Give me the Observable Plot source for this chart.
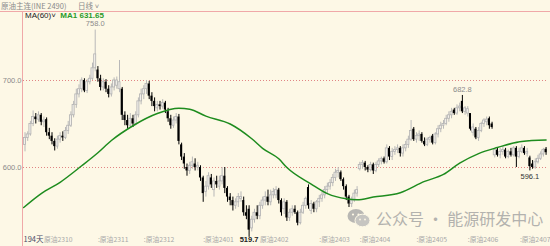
<!DOCTYPE html>
<html><head><meta charset="utf-8">
<script src="https://cdn.jsdelivr.net/npm/d3@7"></script>
<script src="https://cdn.jsdelivr.net/npm/@observablehq/plot@0.6"></script>
<style>
body{margin:0;background:#fdf8e6;}
#wrap{position:relative;width:550px;height:246px;overflow:hidden;background:#fdf8e6;font-family:"Liberation Sans","Noto Sans CJK SC",sans-serif;}
#chart{position:absolute;left:0;top:0;}
#hdr{position:absolute;left:0;top:0;width:550px;height:11px;border-bottom:1px solid #f0a8a8;font-size:7.5px;line-height:11px;color:#8a8a8a;font-family:"Noto Sans CJK SC","Liberation Sans",sans-serif;}
#hdr span{position:absolute;top:0;}
#vline{position:absolute;left:22px;top:11px;width:1px;height:235px;background:#f0a8a8;}
#leg{position:absolute;left:25px;top:11px;font-size:8px;line-height:9px;white-space:nowrap;}
#wm{position:absolute;left:347px;top:208px;white-space:nowrap;color:#b3b2ae;font-size:16px;line-height:20px;font-family:"Noto Sans CJK SC",sans-serif;}
#wm svg{vertical-align:top;margin-right:5px;}
</style></head><body>
<div id="wrap">
<div id="chart"></div>
<div id="hdr"><span style="left:1px">原油主连(INE 2490)</span><span style="left:78px">日线 ˅</span></div>
<div id="vline"></div>
<div id="leg"><span style="color:#222">MA(60)˅</span>&nbsp;&nbsp;<b style="color:#2a9a2a">MA1 631.65</b></div>
<div id="wm"><svg width="24" height="20" viewBox="0 0 24 20"><ellipse cx="9" cy="8" rx="8.5" ry="7" fill="#b8b7b3"/><ellipse cx="15.5" cy="12.5" rx="7.5" ry="6.3" fill="#c6c5c1" stroke="#fdf8e6" stroke-width="1"/><circle cx="6" cy="6.5" r="1.1" fill="#fdf8e6"/><circle cx="11.5" cy="6.5" r="1.1" fill="#fdf8e6"/><circle cx="13" cy="11.5" r="0.9" fill="#fdf8e6"/><circle cx="18" cy="11.5" r="0.9" fill="#fdf8e6"/></svg>公众号 · 能源研发中心</div>
</div>
<script>
const open = [
626,634,638,650,658,655,660,652,655,640,
636,630,624,632,636,634,642,648,660,672,
684,690,700,688,698,702,714,712,702,692,
698,690,684,692,694,690,690,660,654,648,
656,650,660,676,684,690,696,682,676,668,
672,670,674,664,656,648,654,658,626,612,
600,596,602,604,600,600,588,572,578,588,
574,584,578,584,590,576,566,562,556,560,
564,562,548,552,530,540,548,544,556,562,
566,560,568,568,574,562,552,560,542,548,
552,548,536,548,556,577,550,558,552,560,
564,568,574,578,582,588,594,594,586,578,
566,558,562,570,598,603,605,600,597,603,
596,603,607,610,606,622,612,618,620,622,
616,622,626,632,644,632,636,638,630,626,
632,636,628,638,644,648,650,656,660,666,
662,668,676,664,662,662,640,644,634,642,
650,652,656,650,614,620,614,618,620,612,
618,614,622,612,618,622,616,611,604,600,
606,610,615,621];
const high = [
640,641,653,665,662,664,662,658,657,645,
640,633,636,640,641,646,653,664,676,690,
695,703,702,701,706,720,758,716,706,702,
701,694,696,703,704,723,692,664,660,662,
660,664,680,690,694,700,699,686,680,676,
676,678,676,668,660,658,662,661,628,616,
604,606,612,610,606,602,590,584,594,592,
588,590,590,600,600,578,570,566,564,570,
572,566,556,556,544,552,556,560,566,572,
574,574,576,578,576,564,564,562,552,556,
556,550,552,560,566,580,562,560,562,568,
572,578,582,586,592,598,600,596,588,580,
568,566,574,578,606,608,607,602,606,605,
606,610,612,612,626,624,622,624,626,624,
626,630,636,654,646,640,642,640,634,634,
636,638,640,648,652,654,660,664,668,668,
672,674,682.8,670,670,660,650,646,646,652,
656,658,658,652,622,622,622,624,622,620,
622,624,624,622,626,624,622,613,608,610,
614,618,622,623];
const low = [
618,630,636,647,650,652,648,646,636,632,
626,619,621,628,630,632,638,646,657,668,
680,686,686,685,695,700,710,698,688,688,
686,680,681,688,690,686,654,648,644,645,
646,648,657,672,678,684,678,670,664,664,
666,667,662,652,644,645,650,626,608,598,
590,592,598,596,596,584,560,566,574,576,
566,576,574,580,570,560,556,550,552,554,
560,544,540,519.7,526,536,540,540,552,556,
556,556,564,564,558,544,546,538,538,544,
546,533,534,546,552,552,546,548,548,554,
560,564,570,574,578,584,588,584,574,562,
554,554,560,566,596,598,596,594,595,592,
594,600,603,604,604,608,608,614,616,612,
612,618,622,630,630,628,630,628,624,624,
628,626,626,634,640,644,648,652,656,660,
660,664,662,660,658,642,636,632,630,640,
646,648,644,644,611,612,610,614,610,610,
612,612,600,610,616,614,612,596.1,598,598,
604,608,612,614];
const close = [
634,638,650,658,655,660,652,654,640,636,
630,624,632,636,634,642,648,660,672,684,
690,700,688,698,702,714,730,702,692,698,
690,684,692,700,700,698,660,654,648,656,
650,660,676,684,690,696,682,676,670,672,
670,674,666,656,648,654,658,630,612,604,
596,602,606,600,602,588,570,578,590,580,
584,580,584,590,576,566,562,556,560,566,
566,548,544,528,540,548,544,556,562,566,
560,568,572,574,562,548,560,542,548,552,
548,536,548,556,564,556,558,552,560,564,
568,574,578,582,588,594,596,586,578,566,
558,562,570,574,603,605,600,597,603,596,
603,607,610,606,622,612,618,620,622,616,
622,626,632,642,632,636,638,630,626,632,
634,628,638,644,648,650,656,660,664,662,
668,670,664,668,667,644,646,634,642,650,
654,655,648,646,620,614,618,620,612,618,
614,622,612,618,622,616,618,601,600,606,
610,615,620,617];
// MA(60) at these day indices
const maIdx = [-0.5,6,13,21,27,32,40,49,57,61,67,76,84,88,94,97,106,112,119,123,129,139,148,155,161,168,175,184,193];
const maVal = [554,570,583,602,617,631,648,662,668,667,659,650,633,622,610,600,581,570,564,563,566,571,584,592,605,616,623,630,631.65];
const yTicks = [600, 700];
const xLabels = ["原油2310",":原油2311",":原油2312",":原油2401","原油2402",":原油2403",":原油2404",":原油2405",":原油2406",":原油2407"];
const xLabelIdx = [7,27,44,66,87,109,124,145,164,183.3];
const dayCount = "194天";
const highNotes = [{i:26, v:758.0, t:"758.0"}, {i:162, v:682.8, t:"682.8"}];
const lowNotes = [{i:187, v:596.1, t:"596.1"}];
const bottomNote = [{i:83, t:"519.7"}];

const data = close.map((c, i) => ({i, o: open[i], h: high[i], l: low[i], c}));
const up = data.filter(d => d.c >= d.o);
const down = data.filter(d => d.c < d.o);
const ma = maIdx.map((x, k) => ({x, y: maVal[k]}));
const hw = 0.38;

const chart = Plot.plot({
  width: 550, height: 246,
  marginTop: 11, marginBottom: 8, marginLeft: 23, marginRight: 2,
  style: {background: "transparent", fontFamily: "'Liberation Sans','Noto Sans CJK SC',sans-serif", overflow: "visible"},
  x: {domain: [-0.56, 193.9], axis: null},
  y: {domain: [518.4, 779.3], axis: null},
  marks: [
    Plot.ruleY(yTicks, {y: d => d, stroke: "#e08484", strokeDasharray: "1,2", strokeWidth: 1}),
    Plot.axisY(yTicks, {anchor: "left", tickFormat: d => d.toFixed(1), tickSize: 0, tickPadding: 2, fill: "#8a8a8a", fontSize: 7.5, label: null}),
    Plot.ruleX(up, {x: "i", y1: "l", y2: "h", stroke: "#b8b8b8", strokeWidth: 1}),
    Plot.ruleX(down, {x: "i", y1: "l", y2: "h", stroke: "#000", strokeWidth: 1}),
    Plot.rect(up, {x1: d => d.i - hw, x2: d => d.i + hw, y1: "o", y2: "c", fill: "#f3f0ea", stroke: "#b2b2b2", strokeWidth: 0.8}),
    Plot.rect(down, {x1: d => d.i - hw, x2: d => d.i + hw, y1: "o", y2: "c", fill: "#000"}),
    Plot.line(ma, {x: "x", y: "y", stroke: "#1e8c1e", strokeWidth: 1.5, curve: "monotone-x"}),
    Plot.text(highNotes, {x: "i", y: "v", text: "t", dy: -6, fill: "#8c8c8c", fontSize: 7.5}),
    Plot.text(lowNotes, {x: "i", y: "v", text: "t", dy: 6, fill: "#333", fontSize: 7.5}),
    Plot.text(xLabelIdx, {x: d => d, text: (d, k) => xLabels[k], frameAnchor: "bottom", dy: 3.5, textAnchor: "start", fill: "#a8a8a8", fontSize: 6.8, fontFamily: "'Noto Sans CJK SC',sans-serif"}),
    Plot.text([dayCount], {frameAnchor: "bottom-left", dy: 3.5, textAnchor: "start", fill: "#4a4a66", fontSize: 7.5, fontFamily: "'Noto Sans CJK SC',sans-serif"}),
    Plot.text(bottomNote, {x: "i", text: "t", frameAnchor: "bottom", dy: 3.5, fill: "#222", fontWeight: "bold", fontSize: 7.5})
  ]
});
document.getElementById("chart").appendChild(chart);
</script>
</body></html>
